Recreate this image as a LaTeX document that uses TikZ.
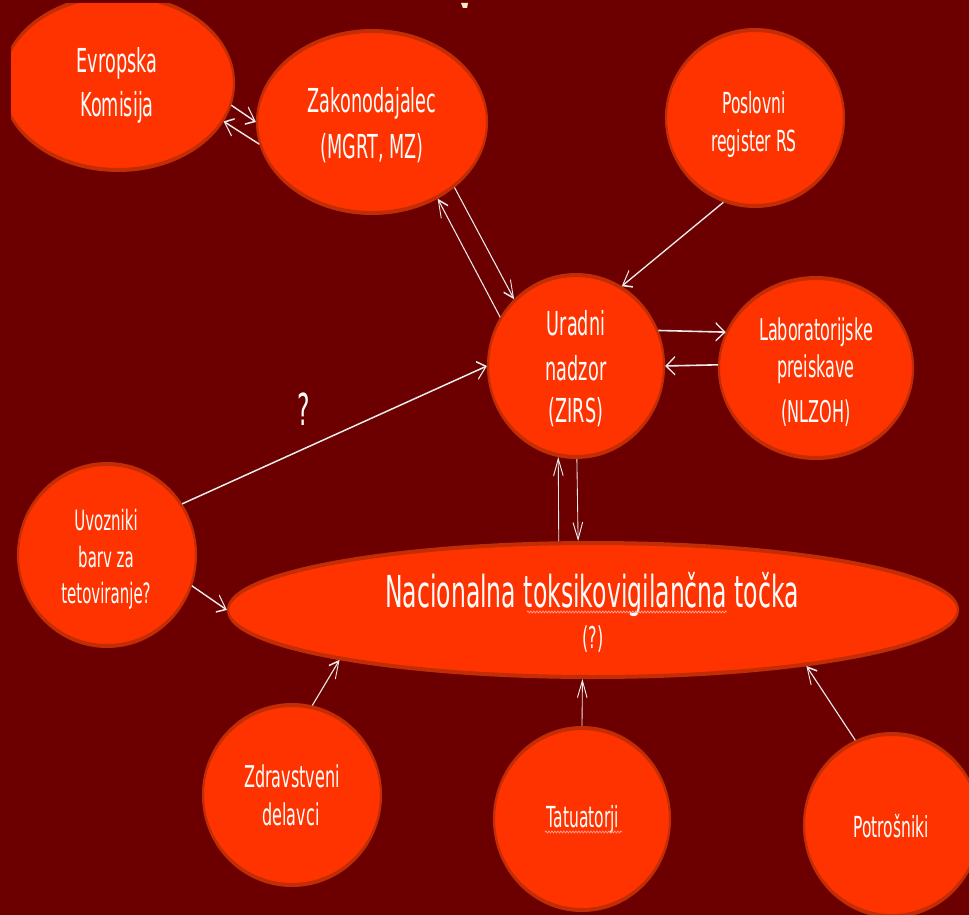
\documentclass[tikz,border=0pt]{standalone}
\usepackage{fontspec}
\setmainfont{DejaVu Sans}
\usetikzlibrary{shapes.geometric,arrows.meta,decorations.pathmorphing}
\definecolor{bgred}{RGB}{108,0,0}
\definecolor{bubfill}{RGB}{255,51,0}
\definecolor{bubline}{RGB}{195,45,5}
\definecolor{arrowc}{RGB}{235,235,235}
\definecolor{wavec}{RGB}{255,165,155}
\definecolor{fragc}{RGB}{255,240,190}
\tikzset{
  bub/.style={ellipse, draw=bubline, fill=bubfill, line width=4pt, inner sep=0pt},
  txt/.style={anchor=base, inner sep=0pt, text=white},
  conn/.style={draw=arrowc, line width=1.6pt, -{Straight Barb[length=17pt,width=18pt]}},
  wavy/.style={draw=wavec, line width=0.9pt, decorate, decoration={snake, amplitude=1pt, segment length=5.6pt}},
  fa/.style={font=\fontsize{44}{50}\selectfont},
  fb/.style={font=\fontsize{33}{40}\selectfont},
  fc/.style={font=\fontsize{30}{36}\selectfont},
  fd/.style={font=\fontsize{29}{35}\selectfont},
  fe/.style={font=\fontsize{28}{34}\selectfont},
}
\begin{document}
\begin{tikzpicture}[x=1pt,y=-1pt]
\useasboundingbox (0,0) rectangle (969,915);
\fill[bgred] (0,0) rectangle (969,915);
\begin{scope}[transform canvas={xscale=0.535}, x=1.869159pt, y=-1pt]
  % title fragment
  \fill[fragc] (461,3) -- (468,3) -- (467,8) -- (463,8) -- cycle;
  % bubbles
  \begin{scope}
    \clip (11,4) rectangle (969,915);
    \node[bub, minimum width=433.6pt, minimum height=174pt] (evr) at (118,83) {};
  \end{scope}
  \node[bub, minimum width=429.9pt, minimum height=182pt] (zak) at (372,122) {};
  \node[bub, minimum width=332.7pt, minimum height=176pt] (posl) at (755,118) {};
  \node[bub, minimum width=329pt, minimum height=182pt] (urad) at (576,366) {};
  \node[bub, minimum width=362.6pt, minimum height=180pt] (lab) at (816,368) {};
  \node[bub, minimum width=332.7pt, minimum height=182pt] (uvoz) at (107,555) {};
  \node[bub, minimum width=1364.5pt, minimum height=134pt] (nac) at (593,610) {};
  \node[bub, minimum width=332.7pt, minimum height=180pt] (zdr) at (292,795) {};
  \node[bub, minimum width=329pt, minimum height=182pt] (tat) at (582,819) {};
  \node[bub, minimum width=329pt, minimum height=182pt] (potr) at (892,825) {};
  % texts
  \node[txt, fb] (evr1) at (117,73) {Evropska};
  \node[txt, fb] (evr2) at (117,117) {Komisija};
  \node[txt, fb] (zak1) at (372,113) {Zakonodajalec};
  \node[txt, fb] (zak2) at (372,158) {(MGRT, MZ)};
  \node[txt, fd] (posl1) at (754,114) {Poslovni};
  \node[txt, fd] (posl2) at (754,152) {register RS};
  \node[txt, fb] (urad1) at (576,335) {Uradni};
  \node[txt, fb] (urad2) at (576,380) {nadzor};
  \node[txt, fb] (urad3) at (576,422) {(ZIRS)};
  \node[txt, fc] (lab1) at (816,340) {Laboratorijske};
  \node[txt, fc] (lab2) at (816,377) {preiskave};
  \node[txt, fc] (lab3) at (816,422) {(NLZOH)};
  \node[txt, fe] (uvoz1) at (106,530) {Uvozniki};
  \node[txt, fe] (uvoz2) at (106,567) {barv za};
  \node[txt, fe] (uvoz3) at (106,603) {tetoviranje?};
  \node[txt, fa] (nac1) at (592,607) {Nacionalna toksikovigilančna točka};
  \node[txt, fc] (nac2) at (593,648) {(?)};
  \node[txt, fa] (qmark) at (304,425) {?};
  \node[txt, fc] (zdr1) at (292,787) {Zdravstveni};
  \node[txt, fc] (zdr2) at (291,825) {delavci};
  \node[txt, fd] (tat1) at (583,827) {Tatuatorji};
  \node[txt, fd] (potr1) at (891,837) {Potrošniki};
  % spell-check underlines
  \draw[wavy] (527,612) -- (727,612);
  \draw[wavy] (545,832) -- (622,832);
  % connectors
  \draw[conn] (zak.186.2) -- (evr.-11.9);
  \draw[conn] (evr.-6.6) -- (zak.180.5);
  \draw[conn] (zak.-23.9) -- (urad.150.7);
  \draw[conn] (urad.161) -- (zak.-32.1);
  \draw[conn] (posl.-125.1) -- (urad.43.1);
  \draw[conn] (urad.13) -- (lab.168.5);
  \draw[conn] (lab.179.7) -- (urad.0);
  \draw[conn] (uvoz.20.5) -- (urad.180);
  \draw[conn] (uvoz.-11.9) -- (nac.180);
  \draw[conn] (nac.133.9) -- (urad.-110.1);
  \draw[conn] (urad.-89.3) -- (nac.112.5);
  \draw[conn] (zdr.67.8) -- (nac.-174.2);
  \draw[conn] (tat.90) -- (nac.-106.6);
  \draw[conn] (potr.129.4) -- (nac.-8.3);
\end{scope}
\end{tikzpicture}
\end{document}
